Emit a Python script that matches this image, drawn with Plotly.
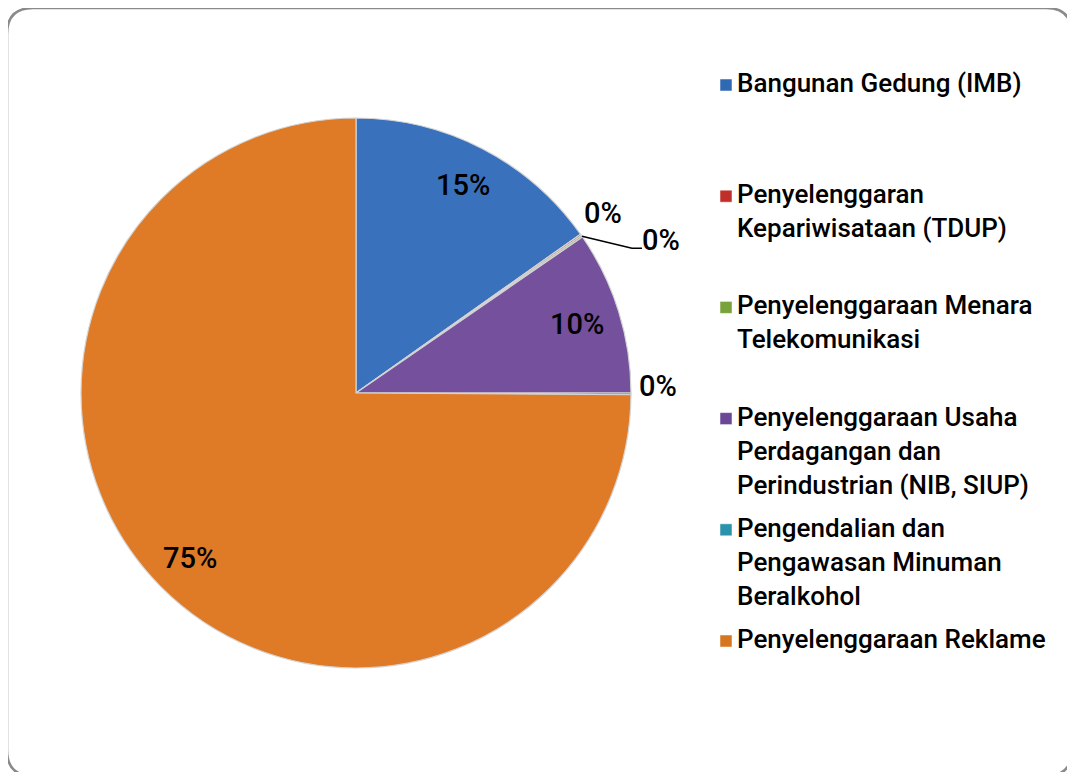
import math
import plotly.graph_objects as go

# ---- data ----
categories = [
    "Bangunan Gedung (IMB)",
    "Penyelenggaran Kepariwisataan (TDUP)",
    "Penyelenggaraan Menara Telekomunikasi",
    "Penyelenggaraan Usaha Perdagangan dan Perindustrian (NIB, SIUP)",
    "Pengendalian dan Pengawasan Minuman Beralkohol",
    "Penyelenggaraan Reklame",
]
legend_labels = [
    "Bangunan Gedung (IMB)",
    "Penyelenggaran<br>Kepariwisataan (TDUP)",
    "Penyelenggaraan Menara<br>Telekomunikasi",
    "Penyelenggaraan Usaha<br>Perdagangan dan<br>Perindustrian (NIB, SIUP)",
    "Pengendalian dan<br>Pengawasan Minuman<br>Beralkohol",
    "Penyelenggaraan Reklame",
]
values = [15.2, 0.1, 0.1, 9.6, 0.1, 74.9]

# ---- styles ----
OFF = 8  # page body margin offset
W, H = 1075 - OFF, 772 - OFF
colors = ["#3a71bd", "#b93a35", "#86ab45", "#74509d", "#3399b1", "#df7a26"]
legend_colors = ["#2f69b3", "#bf302b", "#7aa23a", "#6a4896", "#2a93ab", "#d6761f"]
FONT = "Roboto"
CX, CY, R = 356, 393, 275  # pixel geometry of the pie (reference coords)


def px(x):
    return (x - OFF) / W


def py(y):
    return 1 - (y - OFF) / H


fig = go.Figure()
fig.add_trace(go.Pie(
    labels=categories,
    values=values,
    sort=False,
    direction="clockwise",
    rotation=0,
    textinfo="none",
    hoverinfo="label+percent",
    marker=dict(colors=colors, line=dict(color="#d4d4d4", width=1.2)),
    domain=dict(x=[px(CX - R), px(CX + R)], y=[py(CY + R), py(CY - R)]),
    showlegend=False,
))

# percentage labels computed from the data
total = sum(values)
# (radius factor, angle offset deg, dx, dy) per slice: placement style
placement = [
    (0.85, 0, 0, 0),
    (1.11, -1.0, 0, 0),
    (None, 0, 0, 0),
    (0.84, 0, 0, 0),
    (1.09, -0.2, 2, -7),
    (0.85, 0, 0, 0),
]
cum = 0.0
annotations = []
shapes = []
for i, v in enumerate(values):
    a0 = cum / total * 360
    cum += v
    a1 = cum / total * 360
    mid = (a0 + a1) / 2
    pct = f"{round(v / total * 100):.0f}%"
    rf, aoff, dx, dy = placement[i]
    if rf is None:
        # leader line label
        t = math.radians(mid)
        ex, ey = CX + R * math.sin(t), CY - R * math.cos(t)
        kx, ky = ex + 50, ey + 12
        shapes.append(dict(type="path", xref="paper", yref="paper",
                           path=f"M {px(ex)} {py(ey)} L {px(kx)} {py(ky)} L {px(kx + 10)} {py(ky)}",
                           line=dict(color="black", width=1.5)))
        lx, ly = kx + 29, ky - 8
    else:
        t = math.radians(mid + aoff)
        lx, ly = CX + rf * R * math.sin(t) + dx, CY - rf * R * math.cos(t) + dy
    annotations.append(dict(x=px(lx), y=py(ly), xref="paper", yref="paper",
                            text=pct, showarrow=False, xanchor="center", yanchor="middle",
                            font=dict(family=FONT, size=29, color="black", weight=500)))

# manual legend
leg_x_sq, leg_x_txt = 720, 737
leg_y0, leg_dy = 85, 111.2
for i, lab in enumerate(legend_labels):
    yc = leg_y0 + leg_dy * i
    shapes.append(dict(type="rect", xref="paper", yref="paper",
                       x0=px(leg_x_sq), x1=px(leg_x_sq + 12), y0=py(yc + 6), y1=py(yc - 6),
                       fillcolor=legend_colors[i], line=dict(color="#ffffff", width=0.5)))
    annotations.append(dict(x=px(leg_x_txt - 2), y=py(yc - 19), xref="paper", yref="paper",
                            text=lab, showarrow=False, xanchor="left", yanchor="top", align="left",
                            font=dict(family=FONT, size=26, color="black", weight=500)))

# rounded border
L, T, Rr, B, c = 7, 8, 1072, 776, 26
path = (f"M {px(L + c)} {py(T)} L {px(Rr - c)} {py(T)} Q {px(Rr)} {py(T)} {px(Rr)} {py(T + c)} "
        f"L {px(Rr)} {py(B - c)} Q {px(Rr)} {py(B)} {px(Rr - c)} {py(B)} "
        f"L {px(L + c)} {py(B)} Q {px(L)} {py(B)} {px(L)} {py(B - c)} "
        f"L {px(L)} {py(T + c)} Q {px(L)} {py(T)} {px(L + c)} {py(T)} Z")
shapes.append(dict(type="path", xref="paper", yref="paper", path=path,
                   line=dict(color="#8a8a8a", width=2.5)))

fig.update_layout(
    width=W, height=H,
    margin=dict(l=0, r=0, t=0, b=0),
    paper_bgcolor="white", plot_bgcolor="white",
    annotations=annotations, shapes=shapes,
    showlegend=False,
)
fig.write_html("out.html")
